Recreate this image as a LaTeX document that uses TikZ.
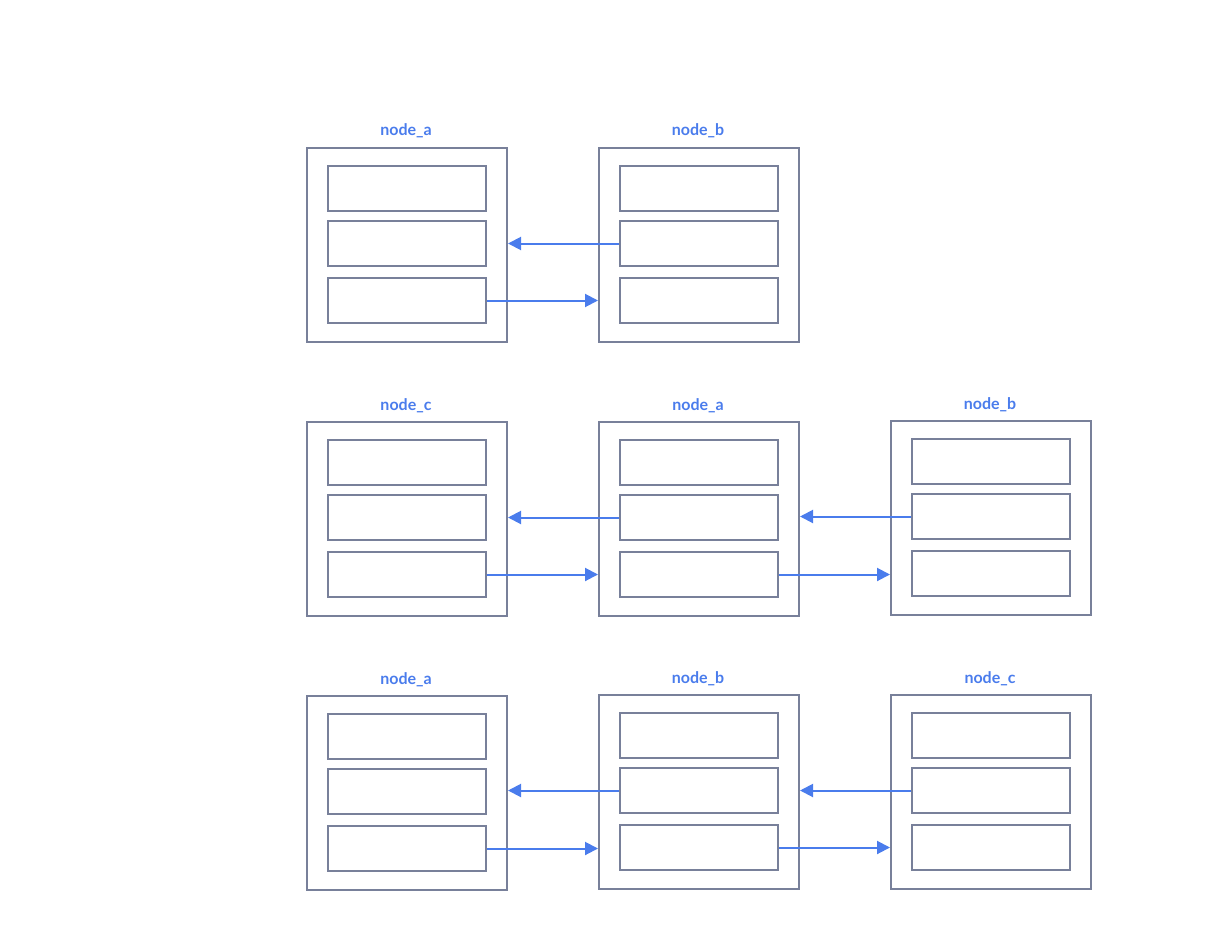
\documentclass[tikz,border=0pt]{standalone}
\usepackage{fontspec}
\setmainfont{Lato}
\usetikzlibrary{arrows.meta}
\definecolor{boxgray}{HTML}{78809A}
\definecolor{linkblue}{HTML}{4A7CEC}
\tikzset{
  x=1pt,y=-1pt,
  outerbox/.style={draw=boxgray,line width=2pt,minimum width=200pt,minimum height=194pt,inner sep=0pt,anchor=north west},
  slot/.style={draw=boxgray,line width=2pt,minimum width=158pt,minimum height=45pt,inner sep=0pt,anchor=north west},
  lbl/.style={text=linkblue,font=\fontsize{16}{18}\selectfont\bfseries,anchor=base},
  link/.style={draw=linkblue,line width=2pt,-{Triangle[length=13pt,width=13pt]}}
}
\newcommand{\mkframe}[4]{% name, x, y, label
  \node[outerbox] (#1) at (#2-1,#3-1) {};
  \node[slot] (#1s1) at (#2+20,#3+17) {};
  \node[slot] (#1s2) at (#2+20,#3+72) {};
  \node[slot] (#1s3) at (#2+20,#3+129) {};
  \node[lbl] (#1l) at (#2+99,#3-12) {#4};
}
\begin{document}
\begin{tikzpicture}
\useasboundingbox (0,0) rectangle (1214,941);
\mkframe{ra}{307}{148}{node\_a}
\mkframe{rb}{599}{148}{node\_b}
\mkframe{sc}{307}{422}{node\_c}
\mkframe{sa}{599}{422}{node\_a}
\mkframe{sb}{891}{421}{node\_b}
\mkframe{ta}{307}{696}{node\_a}
\mkframe{tb}{599}{695}{node\_b}
\mkframe{tc}{891}{695}{node\_c}
% row 1
\draw[link] (rbs2.west) -- (rbs2.west -| ra.east);
\draw[link] (ras3.east) -- (ras3.east -| rb.west);
% row 2
\draw[link] (sas2.west) -- (sas2.west -| sc.east);
\draw[link] (scs3.east) -- (scs3.east -| sa.west);
\draw[link] (sbs2.west) -- (sbs2.west -| sa.east);
\draw[link] (sas3.east) -- (sas3.east -| sb.west);
% row 3
\draw[link] (tbs2.west) -- (tbs2.west -| ta.east);
\draw[link] (tas3.east) -- (tas3.east -| tb.west);
\draw[link] (tcs2.west) -- (tcs2.west -| tb.east);
\draw[link] (tbs3.east) -- (tbs3.east -| tc.west);
\end{tikzpicture}
\end{document}
